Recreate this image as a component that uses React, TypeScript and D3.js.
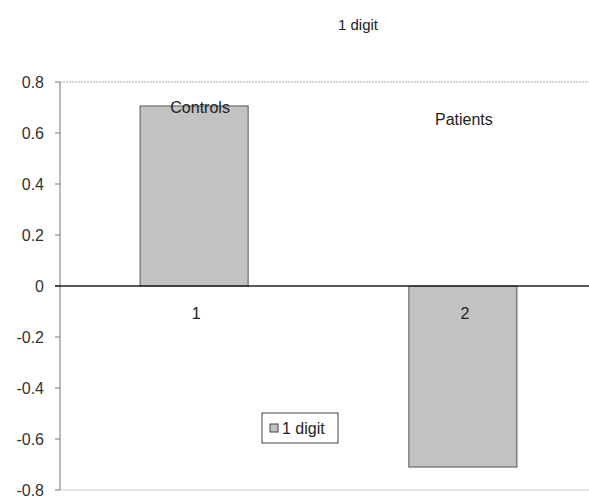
import React from "react";
import * as d3 from "d3";

const categories = ["1", "2"];
const values = [0.706, -0.71];
const groupLabels = ["Controls", "Patients"];
const yTicks = [0.8, 0.6, 0.4, 0.2, 0, -0.2, -0.4, -0.6, -0.8];
const title = "1 digit";
const seriesName = "1 digit";

export default function App() {
  const W = 589, H = 498;
  const left = 60, right = 597, top = 82, bottom = 490;
  const x = d3.scaleBand<string>().domain(categories).range([left, right]).paddingInner(0.598).paddingOuter(0.298);
  const y = d3.scaleLinear().domain([-0.8, 0.8]).range([bottom, top]);
  const font = "'Liberation Sans', Arial, sans-serif";
  const fmt = (v: number) => (v === 0 ? "0" : String(+v.toFixed(1)));
  return (
    <svg width={W} height={H} style={{ position: "absolute", left: 0, top: 0, background: "#fff" }} fontFamily={font}>
      <rect x={0} y={0} width={W} height={H} fill="#fff" />
      <text x={358} y={30} fontSize={15} textAnchor="middle" fill="#222">{title}</text>
      {/* top and bottom plot border */}
      <line x1={left} x2={W} y1={y(0.8)} y2={y(0.8)} stroke="#aaa" strokeDasharray="2,1" />
      <line x1={left} x2={W} y1={y(-0.8)} y2={y(-0.8)} stroke="#ccc" />
      {/* bars */}
      {categories.map((c, i) => {
        const v = values[i];
        return (
          <rect key={c} x={x(c)} width={x.bandwidth()} y={y(Math.max(0, v))} height={Math.abs(y(v) - y(0))}
            fill="#c2c2c2" stroke="#555" strokeWidth={1} />
        );
      })}
      {/* y axis */}
      <line x1={left} x2={left} y1={y(0.8)} y2={y(-0.8)} stroke="#777" />
      {yTicks.map((t) => (
        <g key={t}>
          <line x1={left - 5} x2={left} y1={y(t)} y2={y(t)} stroke="#777" />
          <text x={left - 16} y={y(t) + 6} fontSize={16} textAnchor="end" fill="#333">{fmt(t)}</text>
        </g>
      ))}
      {/* zero line */}
      <line x1={left - 5} x2={W} y1={y(0)} y2={y(0)} stroke="#222" strokeWidth={1.3} />
      {/* category labels */}
      {categories.map((c) => (
        <text key={c} x={(x(c) as number) + x.bandwidth() / 2 + 2} y={y(0) + 33} fontSize={16} textAnchor="middle" fill="#222">{c}</text>
      ))}
      {/* group labels */}
      <text x={(x("1") as number) + x.bandwidth() / 2 + 6} y={y(0.7) + 5} fontSize={16} textAnchor="middle" fill="#222">{groupLabels[0]}</text>
      <text x={(x("2") as number) + x.bandwidth() / 2 + 1} y={y(0.65) + 5} fontSize={16} textAnchor="middle" fill="#222">{groupLabels[1]}</text>
      {/* legend */}
      <g transform="translate(262,413)">
        <rect x={0} y={0} width={76} height={30} fill="#fff" stroke="#444" />
        <rect x={8} y={11} width={8} height={8} fill="#c2c2c2" stroke="#444" />
        <text x={20} y={21} fontSize={16} fill="#222">{seriesName}</text>
      </g>
    </svg>
  );
}
